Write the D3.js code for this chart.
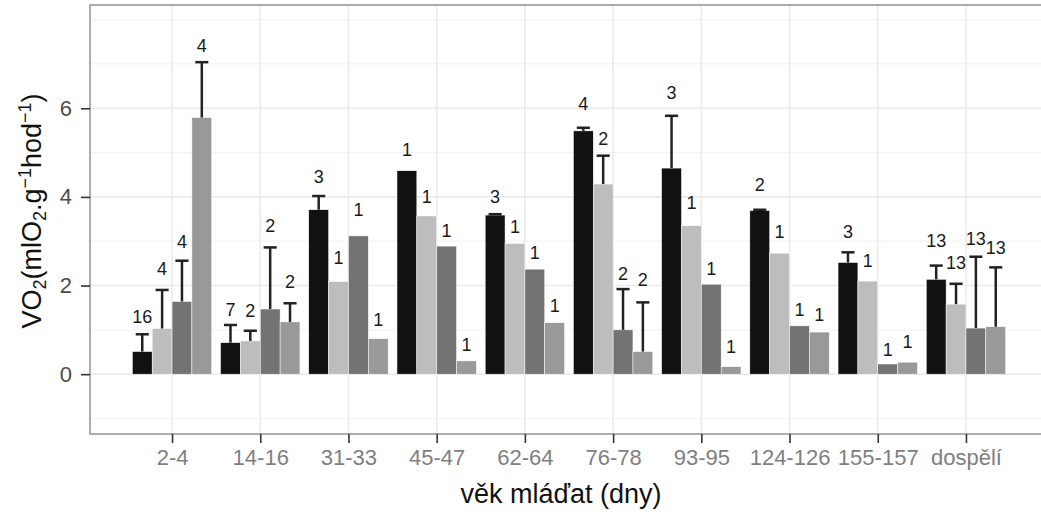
<!DOCTYPE html>
<html>
<head>
<meta charset="utf-8">
<script src="https://cdn.jsdelivr.net/npm/d3@7"></script>
<style>
body { margin: 0; background: #fff; }
text { font-family: "Liberation Sans", Arial, sans-serif; }
</style>
</head>
<body>
<svg id="chart" width="1041" height="514"></svg>
<script>
var categories = ["2-4", "14-16", "31-33", "45-47", "62-64", "76-78", "93-95", "124-126", "155-157", "dospělí"];
var series = ["s1", "s2", "s3", "s4"];
var colors = ["#111111", "#bdbdbd", "#737373", "#999999"];

// mean values per series
var meanS1 = [0.51, 0.71, 3.71, 4.59, 3.59, 5.49, 4.65, 3.69, 2.52, 2.14];
var meanS2 = [1.03, 0.75, 2.09, 3.57, 2.95, 4.29, 3.35, 2.73, 2.10, 1.58];
var meanS3 = [1.64, 1.47, 3.12, 2.89, 2.37, 1.00, 2.03, 1.09, 0.23, 1.04];
var meanS4 = [5.79, 1.18, 0.80, 0.30, 1.16, 0.51, 0.17, 0.95, 0.27, 1.07];

// upper error (se), null where n = 1
var seS1 = [0.39, 0.40, 0.31, null, 0.02, 0.07, 1.18, 0.02, 0.23, 0.31];
var seS2 = [0.87, 0.23, null, null, null, 0.64, null, null, null, 0.46];
var seS3 = [0.92, 1.39, null, null, null, 0.92, null, null, null, 1.61];
var seS4 = [1.25, 0.42, null, null, null, 1.11, null, null, null, 1.34];

// sample sizes
var nS1 = [16, 7, 3, 1, 3, 4, 3, 2, 3, 13];
var nS2 = [4, 2, 1, 1, 1, 2, 1, 1, 1, 13];
var nS3 = [4, 2, 1, 1, 1, 2, 1, 1, 1, 13];
var nS4 = [4, 2, 1, 1, 1, 2, 1, 1, 1, 13];

// where the n labels sit (data units)
var labS1 = [1.16, 1.32, 4.32, 4.92, 3.87, 5.96, 6.20, 4.14, 3.07, 2.88];
var labS2 = [2.24, 1.29, 2.49, 3.87, 3.18, 5.17, 3.72, 3.07, 2.41, 2.37];
var labS3 = [2.84, 3.20, 3.56, 3.09, 2.60, 2.13, 2.24, 1.32, 0.41, 2.92];
var labS4 = [7.28, 1.94, 1.09, 0.53, 1.40, 1.99, 0.47, 1.19, 0.59, 2.71];

var yTicks = [0, 2, 4, 6];
var yMinor = [-1, 1, 3, 5, 7, 8];

var means = [meanS1, meanS2, meanS3, meanS4];
var ses = [seS1, seS2, seS3, seS4];
var ns = [nS1, nS2, nS3, nS4];
var labs = [labS1, labS2, labS3, labS4];

var bars = [];
categories.forEach(function(cat, i) {
  series.forEach(function(s, j) {
    bars.push({
      cat: cat, ser: s, color: colors[j],
      mean: means[j][i], se: ses[j][i], n: ns[j][i], lab: labs[j][i]
    });
  });
});

var svg = d3.select("#chart");
var pLeft = 90, pRight = 1048, pTop = 5, pBottom = 434;

var x = d3.scalePoint().domain(categories).range([pLeft, pRight]).padding(0.93);
var xs = d3.scaleBand().domain(series).range([-0.45 * x.step(), 0.45 * x.step()]);
var y = d3.scaleLinear().domain([-1.35, 8.33]).range([pBottom, pTop]);

// grid
var grid = svg.append("g");
grid.selectAll(".minor").data(yMinor).enter().append("line")
  .attr("x1", pLeft).attr("x2", pRight)
  .attr("y1", function(d) { return y(d); })
  .attr("y2", function(d) { return y(d); })
  .attr("stroke", "#f3f3f3").attr("stroke-width", 1.2);
grid.selectAll(".major").data(yTicks).enter().append("line")
  .attr("x1", pLeft).attr("x2", pRight)
  .attr("y1", function(d) { return y(d); })
  .attr("y2", function(d) { return y(d); })
  .attr("stroke", "#ebebeb").attr("stroke-width", 1.6);
grid.selectAll(".vert").data(categories).enter().append("line")
  .attr("x1", function(d) { return x(d); })
  .attr("x2", function(d) { return x(d); })
  .attr("y1", pTop).attr("y2", pBottom)
  .attr("stroke", "#ebebeb").attr("stroke-width", 1.6);

// bars
svg.append("g").selectAll("rect").data(bars).enter().append("rect")
  .attr("x", function(d) { return x(d.cat) + xs(d.ser); })
  .attr("width", xs.bandwidth())
  .attr("y", function(d) { return y(d.mean); })
  .attr("height", function(d) { return y(0) - y(d.mean); })
  .attr("fill", function(d) { return d.color; })
  .attr("stroke", "#fff").attr("stroke-width", 0.5);

// error bars (upper only)
var errs = bars.filter(function(d) { return d.se != null; });
var eg = svg.append("g").attr("stroke", "#222").attr("stroke-width", 2.5);
eg.selectAll(".ev").data(errs).enter().append("line")
  .attr("x1", function(d) { return x(d.cat) + xs(d.ser) + xs.bandwidth() / 2; })
  .attr("x2", function(d) { return x(d.cat) + xs(d.ser) + xs.bandwidth() / 2; })
  .attr("y1", function(d) { return y(d.mean); })
  .attr("y2", function(d) { return y(d.mean + d.se); });
eg.selectAll(".eh").data(errs).enter().append("line")
  .attr("x1", function(d) { return x(d.cat) + xs(d.ser) + xs.bandwidth() * 0.17; })
  .attr("x2", function(d) { return x(d.cat) + xs(d.ser) + xs.bandwidth() * 0.83; })
  .attr("y1", function(d) { return y(d.mean + d.se); })
  .attr("y2", function(d) { return y(d.mean + d.se); });

// n labels
svg.append("g").selectAll("text").data(bars).enter().append("text")
  .attr("x", function(d) { return x(d.cat) + xs(d.ser) + xs.bandwidth() / 2; })
  .attr("y", function(d) { return y(d.lab); })
  .attr("text-anchor", "middle")
  .attr("font-size", 18)
  .attr("fill", "#1a1a1a")
  .text(function(d) { return d.n; });

// panel border
svg.append("rect")
  .attr("x", pLeft).attr("y", pTop)
  .attr("width", pRight - pLeft).attr("height", pBottom - pTop)
  .attr("fill", "none").attr("stroke", "#999").attr("stroke-width", 1.6);

// axes
var yAxis = svg.append("g")
  .attr("transform", "translate(" + pLeft + ",0)")
  .call(d3.axisLeft(y).tickValues(yTicks).tickSize(9).tickPadding(9));
yAxis.select(".domain").remove();
yAxis.selectAll(".tick line").attr("stroke", "#333").attr("stroke-width", 1.6);
yAxis.selectAll(".tick text").attr("font-size", 22).attr("fill", "#4d4d4d")
  .attr("font-family", "Liberation Sans, Arial, sans-serif");

var xAxis = svg.append("g")
  .attr("transform", "translate(0," + pBottom + ")")
  .call(d3.axisBottom(x).tickSize(9).tickPadding(6));
xAxis.select(".domain").remove();
xAxis.selectAll(".tick line").attr("stroke", "#333").attr("stroke-width", 1.6);
xAxis.selectAll(".tick text").attr("font-size", 22).attr("fill", "#7f7f7f")
  .attr("font-family", "Liberation Sans, Arial, sans-serif");

// axis titles
svg.append("text")
  .attr("x", 561).attr("y", 503)
  .attr("text-anchor", "middle")
  .attr("font-size", 27)
  .attr("fill", "#111")
  .text("věk mláďat (dny)");

var yt = svg.append("text")
  .attr("transform", "translate(41,211) rotate(-90)")
  .attr("text-anchor", "middle")
  .attr("font-size", 27)
  .attr("fill", "#111");
yt.append("tspan").text("VO");
yt.append("tspan").attr("font-size", 18).attr("dy", 5).text("2");
yt.append("tspan").attr("dy", -5).text("(mlO");
yt.append("tspan").attr("font-size", 18).attr("dy", 5).text("2");
yt.append("tspan").attr("dy", -5).text(".g");
yt.append("tspan").attr("font-size", 18).attr("dy", -10).text("−1");
yt.append("tspan").attr("dy", 10).text("hod");
yt.append("tspan").attr("font-size", 18).attr("dy", -10).text("−1");
yt.append("tspan").attr("dy", 10).text(")");
</script>
</body>
</html>
